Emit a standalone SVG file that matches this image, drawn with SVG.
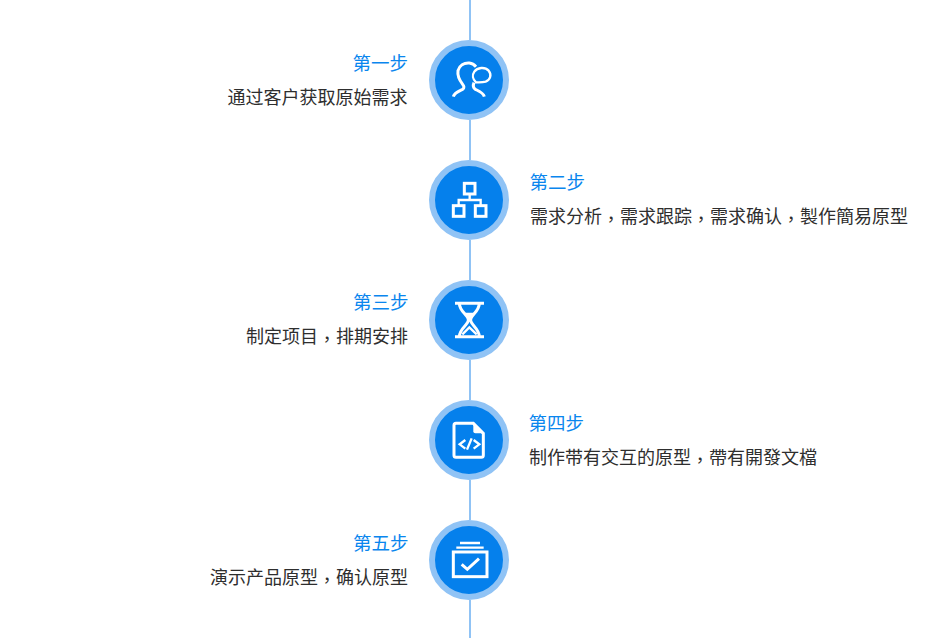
<svg xmlns="http://www.w3.org/2000/svg" width="940" height="638" viewBox="0 0 940 638">
<style>
text{font-family:"Noto Sans CJK SC","Noto Sans",sans-serif;font-size:18px}
.t{fill:#0a86ee;font-size:18.500px}
.d{fill:#2e2e2e}
.e{text-anchor:end}
.k{font-family:"Noto Sans CJK TC","Noto Sans",sans-serif}
.ring{fill:#0580ec;stroke:#90c3f5;stroke-width:6}
.i{fill:none;stroke:#fff;stroke-width:9}
.n{stroke-width:7}
.f{fill:#fff;stroke:none}
.c{stroke:#90c3f5;stroke-width:2;fill:none}
</style>
<rect width="940" height="638" fill="#fff"/>
<g id="connectors">
<path class="c" d="M470 0V40M470 120V160M470 240V280M470 360V400M470 480V520M470 600V638"/>
</g>
<g id="node1">
<circle class="ring" cx="469" cy="80" r="37"/>
<g transform="translate(420 30) scale(.3333)">
<path class="i" d="M100 200C103 188 118 183 128 178C134 174 132 168 128 163C118 150 112 135 114 122C118 106 132 98 148 99C156 100 162 103 168 110M193 200C190 188 176 183 166 178C160 174 158 168 162 158"/>
<path class="i n" d="M168 157C158 148 156 135 163 125C172 112 195 110 206 122C216 134 211 150 197 155C186 158 176 157 168 157Z"/>
</g>
<text class="t e" x="408" y="69.500">第一步</text>
<text class="d e" x="407.500" y="103.500">通过客户获取原始需求</text>
</g>
<g id="node2">
<circle class="ring" cx="469" cy="200" r="37"/>
<g transform="translate(420 150) scale(.3333)">
<rect class="i" x="133" y="100" width="32" height="32"/>
<rect class="i" x="100" y="167" width="32" height="32"/>
<rect class="i" x="166" y="167" width="32" height="32"/>
<path class="i n" d="M149 132V150M116 167V150H182V167"/>
</g>
<text class="t" x="529.500" y="188.500">第二步</text>
<text class="d" x="530" y="222.500">需求分析<tspan class="k" dy="3">，</tspan><tspan dy="-3">需求跟踪</tspan><tspan class="k" dy="3">，</tspan><tspan dy="-3">需求确认</tspan><tspan class="k" dy="3">，</tspan><tspan dy="-3">製作簡易原型</tspan></text>
</g>
<g id="node3">
<circle class="ring" cx="469" cy="320" r="37"/>
<g transform="translate(420 270) scale(.3333)">
<path class="i" d="M105 100H192M105 200H192M118 100C118 125 145 135 145 150C145 165 118 175 118 200M178 100C178 125 152 135 152 150C152 165 178 175 178 200"/>
<path class="f" d="M130 128H166L148 147Z"/>
<path class="i n" d="M127 193L148 172L170 193"/>
</g>
<text class="t e" x="408.500" y="308.500">第三步</text>
<text class="d e" x="408" y="342.500">制定项目<tspan class="k" dy="3">，</tspan><tspan dy="-3">排期安排</tspan></text>
</g>
<g id="node4">
<circle class="ring" cx="469" cy="440" r="37"/>
<g transform="translate(420 390) scale(.3333)">
<path class="i" d="M160 100H108Q102 100 102 106V196Q102 202 108 202H184Q190 202 190 196V130Z"/>
<path class="f" d="M160 103L188 130H166Q160 130 160 124Z"/>
<path class="i n" d="M136 150L119 163L136 176M161 150L178 163L161 176M155 145L141 179"/>
</g>
<text class="t" x="528.500" y="429.500">第四步</text>
<text class="d" x="529" y="463.500">制作带有交互的原型<tspan class="k" dy="3">，</tspan><tspan dy="-3">帶有開發文檔</tspan></text>
</g>
<g id="node5">
<circle class="ring" cx="469" cy="560" r="37"/>
<g transform="translate(420 510) scale(.3333)">
<path class="i n" d="M120 99H180M109 113H191"/>
<rect class="i" x="100" y="126" width="101" height="74"/>
<path class="i" d="M125 163L142 178L177 146"/>
</g>
<text class="t e" x="408.500" y="549.500">第五步</text>
<text class="d e" x="408" y="583.500">演示产品原型<tspan class="k" dy="3">，</tspan><tspan dy="-3">确认原型</tspan></text>
</g>
</svg>
